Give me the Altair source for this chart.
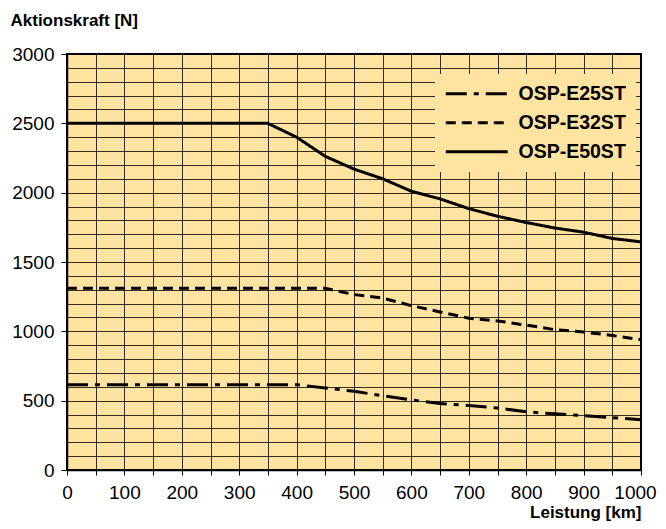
import altair as alt
import pandas as pd

series_names = ["OSP-E25ST", "OSP-E32ST", "OSP-E50ST"]

e25_x = [0, 400, 450, 500, 550, 600, 650, 700, 750, 800, 850, 900, 950, 1000]
e25_y = [615, 615, 592, 568, 535, 505, 480, 465, 447, 420, 405, 392, 378, 362]

e32_x = [0, 450, 500, 550, 600, 650, 700, 750, 800, 850, 900, 950, 1000]
e32_y = [1310, 1310, 1265, 1240, 1185, 1140, 1095, 1075, 1045, 1012, 995, 970, 940]

e50_x = [0, 350, 400, 450, 500, 550, 600, 650, 700, 750, 800, 850, 900, 950, 1000]
e50_y = [2500, 2500, 2400, 2262, 2170, 2100, 2010, 1955, 1885, 1830, 1785, 1745, 1715, 1670, 1645]

x_ticks = list(range(0, 1001, 50))
y_ticks = list(range(0, 3001, 100))

rows = []
for name, xs, ys in zip(series_names, [e25_x, e32_x, e50_x], [e25_y, e32_y, e50_y]):
    for i, (a, b) in enumerate(zip(xs, ys)):
        rows.append({"Leistung": a, "Kraft": b, "Serie": name, "ord": i})
df = pd.DataFrame(rows)

BG = "#FFE3A0"
FONT = "Liberation Sans"

chart = alt.Chart(df).mark_line(color="black", strokeWidth=3, strokeCap="butt").encode(
    x=alt.X(
        "Leistung:Q",
        scale=alt.Scale(domain=[0, 1000], nice=False),
        axis=alt.Axis(
            values=x_ticks,
            labelExpr="datum.value % 100 == 0 ? datum.label : ''",
            labelOffset={"condition": {"test": "datum.value == 1000", "value": -6}, "value": 0},
            labelOverlap=False,
            labelFlush=False,
            format="d",
            grid=True,
            tickSize=5,
            labelPadding=8,
            title="Leistung [km]",
            titleX=574,
            titleY=42,
            titleAlign="right",
            titleBaseline="middle",
            titleAnchor="end",
        ),
    ),
    y=alt.Y(
        "Kraft:Q",
        scale=alt.Scale(domain=[0, 3000], nice=False),
        axis=alt.Axis(
            values=y_ticks,
            labelExpr="datum.value % 500 == 0 ? datum.label : ''",
            tickOpacity={"condition": {"test": "datum.value % 500 == 0", "value": 1}, "value": 0},
            labelOverlap=False,
            labelFlush=False,
            format="d",
            grid=True,
            tickSize=6,
            labelPadding=7,
            title="Aktionskraft [N]",
            titleAngle=0,
            titleX=-57,
            titleY=-34,
            titleAlign="left",
            titleBaseline="middle",
        ),
    ),
    strokeDash=alt.StrokeDash(
        "Serie:N",
        scale=alt.Scale(domain=series_names, range=[[21, 7, 5, 7], [10, 6], [1, 0]]),
        legend=alt.Legend(
            title=None,
            orient="none",
            legendX=368,
            legendY=20,
            padding=10,
            fillColor=BG,
            symbolType="M-4,0H4",
            symbolSize=240,
            symbolStrokeWidth=3,
            symbolStrokeColor="black",
            symbolOffset=22,
            labelOffset=32,
            labelFont=FONT,
            labelFontSize=19.5,
            labelFontWeight="bold",
            labelColor="black",
            rowPadding=8,
        ),
    ),
    order="ord:Q",
).properties(
    width=574,
    height=416,
    autosize=alt.AutoSizeParams(type="none"),
    padding={"left": 59, "top": 46, "right": 17, "bottom": 51},
).configure_view(
    fill=BG,
    stroke="black",
    strokeWidth=2,
).configure_axis(
    gridColor="black",
    gridOpacity=0.8,
    gridWidth=1,
    domainColor="black",
    domainWidth=1.5,
    tickColor="black",
    tickWidth=1,
    labelFont=FONT,
    labelFontSize=19,
    labelColor="black",
    titleFont=FONT,
    titleFontSize=17,
    titleFontWeight="bold",
    titleColor="black",
)

chart.save("out.html", embed_options={"renderer": "svg", "actions": False})
